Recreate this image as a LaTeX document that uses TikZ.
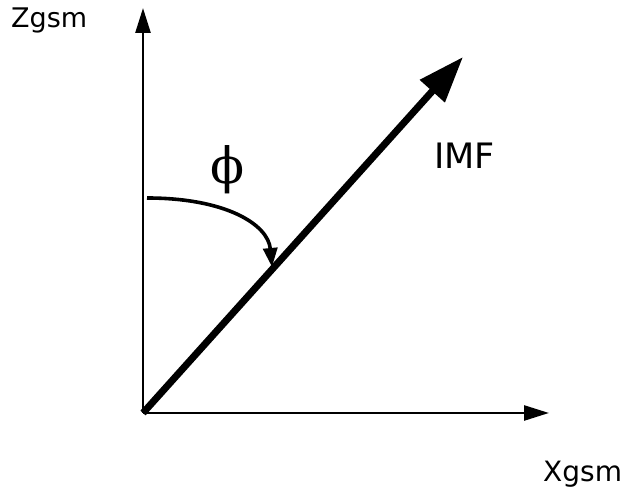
\documentclass[tikz,border=0pt]{standalone}
\usepackage{fontspec}
\setmainfont{DejaVu Sans}
\newfontfamily\phifont{DejaVu Serif}
\usetikzlibrary{arrows.meta}
\begin{document}
\begin{tikzpicture}[x=1pt,y=1pt,
  axis/.style={line width=2.6pt,-{Triangle[length=25pt,width=15pt]}},
  imf/.style={line width=7pt,-{Triangle[length=46pt,width=32pt]}},
  angarc/.style={line width=3.6pt,-{Triangle[length=19pt,width=14pt]}},
  lbl/.style={inner sep=0pt,anchor=base west}]
\useasboundingbox (0,0) rectangle (624,494);
\coordinate (O) at (143,81);
\coordinate (ztip) at (143,486);
\coordinate (xtip) at (549,81);
\coordinate (imftip) at (463,437);
\coordinate (arcstart) at (147,296);
\coordinate (arcend) at (272,227);
\draw[axis] (O) -- (ztip);
\draw[axis] (O) -- (xtip);
\draw[imf] (O) -- (imftip);
\draw[angarc] (arcstart) .. controls (225,296) and (268,270) .. (arcend);
\node[lbl,font=\fontsize{27}{30}\selectfont] (zlab) at (11,466) {Zgsm};
\node[lbl,font=\fontsize{28}{32}\selectfont] (xlab) at (543,12) {Xgsm};
\node[lbl,font=\fontsize{35}{40}\selectfont] (imflab) at (434,325) {IMF};
\node[inner sep=0pt,font=\phifont\fontsize{50}{54}\selectfont] (phi) at (228,324) {ϕ};
\end{tikzpicture}
\end{document}
